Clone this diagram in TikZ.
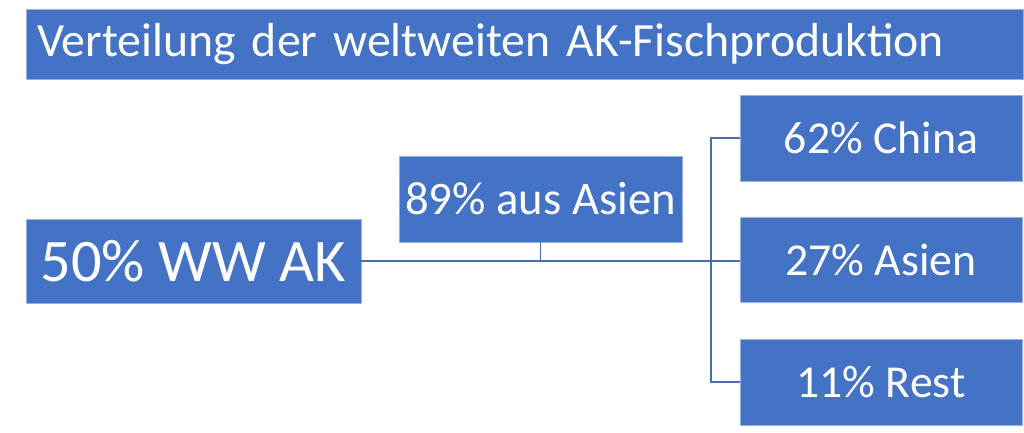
\documentclass[tikz,border=0pt]{standalone}
\usepackage{fontspec}
\setmainfont{Carlito}
\usetikzlibrary{positioning}
\definecolor{boxblue}{HTML}{4472C4}
\definecolor{linkblue}{HTML}{4A6DB0}
\tikzset{every picture/.style={line width=0.75pt}}

\begin{document}
\begin{tikzpicture}[x=0.75pt,y=0.75pt,yscale=-1,xscale=1]
\tikzset{
  blockbox/.style={fill=boxblue, draw=boxblue!55!white, line width=0.4pt, text=white, inner sep=0pt, align=center},
  titlebar/.style={blockbox, anchor=north west, align=left, inner xsep=8.25pt, text width=731.25pt, minimum height=52.5pt, font=\fontsize{35.8}{40}\selectfont},
  link/.style={draw=linkblue, line width=1.1pt}
}
\useasboundingbox (0,0) rectangle (1024,432);
% title
\node[titlebar] (titel) at (26,9) {Verteilung der weltweiten AK-Fischproduktion};
% boxes
\node[blockbox, minimum width=251.25pt, minimum height=63pt, font=\fontsize{45.3}{50}\selectfont] (ww) at (193.5,261) {50\% WW AK};
\node[blockbox, minimum width=212.25pt, minimum height=64.5pt, font=\fontsize{35}{40}\selectfont] (asia89) at (540.5,199) {89\% aus Asien};
\node[blockbox, minimum width=211.5pt, minimum height=64.5pt, font=\fontsize{34.3}{40}\selectfont] (china) at (881,138) {62\% China};
\node[blockbox, minimum width=211.5pt, minimum height=63.75pt, font=\fontsize{34.3}{40}\selectfont] (asien27) at (881,259.5) {27\% Asien};
\node[blockbox, minimum width=211.5pt, minimum height=64.5pt, font=\fontsize{34.3}{40}\selectfont] (rest) at (881,382) {11\% Rest};
\coordinate (gabel) at (711,261);
% connectors
\draw[link] (ww.east) -- (ww.east -| asien27.west);
\draw[link] (asia89.south) -- (asia89.south |- ww.east);
\draw[link] (china.west) -| (gabel) |- (rest.west);
\end{tikzpicture}
\end{document}
